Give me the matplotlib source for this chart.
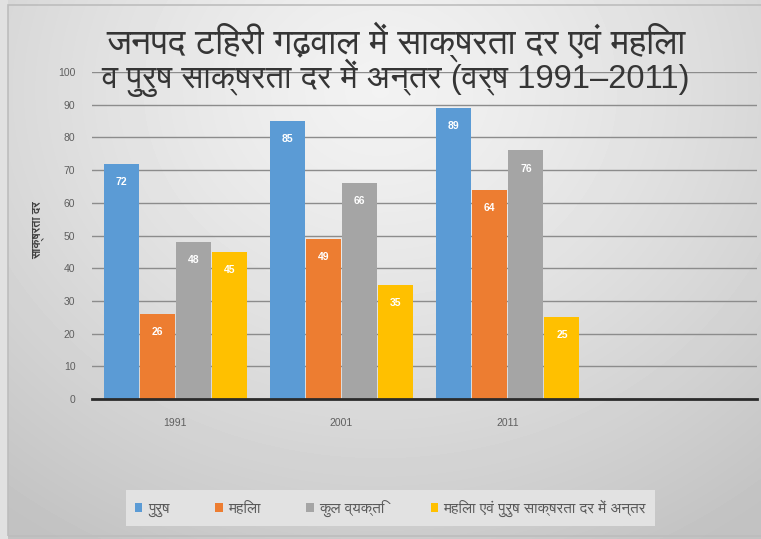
import numpy as np
import matplotlib
matplotlib.use("Agg")
import matplotlib.pyplot as plt
from matplotlib import font_manager
from matplotlib.ft2font import FT2Font
from matplotlib.patches import Rectangle

# data
years = ["1991", "2001", "2011"]
purush = [72, 85, 89]
mahila = [26, 49, 64]
kul_vyakti = [48, 66, 76]
antar = [45, 35, 25]
series_names = ["पुरुष", "महिला", "कुल व्यक्ति", "महिला एवं पुरुष साक्षरता दर में अन्तर"]
colors = ["#5B9BD5", "#ED7D31", "#A5A5A5", "#FFC000"]
title_lines = ["जनपद टिहरी गढ़वाल में साक्षरता दर एवं महिला",
               "व पुरुष साक्षरता दर में अन्तर (वर्ष 1991–2011)"]
ylabel = "साक्षरता दर"

# find fonts with devanagari glyphs, prefer a proportional sans one
cands = []
for f in font_manager.fontManager.ttflist:
    try:
        if 0x0915 in FT2Font(f.fname).get_charmap():
            cands.append(f)
    except Exception:
        pass

def rank(f):
    n = f.name.lower()
    return ("mono" in n, "sans" not in n, f.style != "normal",
            str(f.weight) not in ("normal", "400"), n)

cands.sort(key=rank)
deva = cands[0].name if cands else "Noto Sans"
plt.rcParams["font.family"] = ["Liberation Sans", deva, "DejaVu Sans"]

fig = plt.figure(figsize=(7.61, 5.39), dpi=100)

# grey radial background
bg = fig.add_axes([0, 0, 1, 1], zorder=-10)
yy, xx = np.mgrid[0:539, 0:761]
r = np.sqrt((xx - 380) ** 2 + ((yy - 90) * 1.15) ** 2) / 560.0
shade = np.clip(0.95 - 0.17 * r ** 1.3, 0.76, 0.95)
shade[:, :8] = 0.88
bg.imshow(shade, cmap="gray", vmin=0, vmax=1, aspect="auto")
bg.axis("off")
# chart frame
fig.patches.append(Rectangle((8 / 761, 0.006), 1.0, 0.985, transform=fig.transFigure,
                             fill=False, edgecolor="#bdbdbd", linewidth=1.2, zorder=-5))

ax = fig.add_axes([0.121, 0.2597, 0.874, 0.6067])
ax.set_facecolor("none")

x = np.arange(len(years))
w = 0.21
step = 0.217
for i, vals in enumerate([purush, mahila, kul_vyakti, antar]):
    pos = x + (i - 1.5) * step
    bars = ax.bar(pos, vals, w, color=colors[i], label=series_names[i], zorder=3)
    for b, v in zip(bars, vals):
        ax.annotate(str(v), (b.get_x() + b.get_width() / 2, v), xytext=(0, -13),
                    textcoords="offset points", ha="center", va="center",
                    color="white", fontsize=7.5, fontweight="bold", zorder=4)

ax.set_xlim(-0.5, 3.5)
ax.set_ylim(0, 100)
ax.set_yticks(range(0, 101, 10))
ax.set_xticks(x)
ax.set_xticklabels(years)
ax.grid(axis="y", color="#8c8c8c", linewidth=1, zorder=0)
ax.tick_params(length=0, labelsize=7.5, colors="#5f5f5f", pad=12)
ax.tick_params(axis="x", pad=14)
for s in ["top", "right", "left"]:
    ax.spines[s].set_visible(False)
ax.spines["bottom"].set_color("#2b2b2b")
ax.spines["bottom"].set_linewidth(2)
ax.spines["bottom"].set_zorder(5)

fig.text(0.05, 0.573, ylabel, rotation=90, ha="center", va="center",
         fontsize=8.5, fontweight="bold", color="#404040")

# two-line title
fig.text(0.52, 0.922, title_lines[0], ha="center", va="center", fontsize=25.5, color="#353535")
fig.text(0.52, 0.855, title_lines[1], ha="center", va="center", fontsize=23.5, color="#353535")

leg = ax.legend(loc="center", bbox_to_anchor=(0.513, 0.057), bbox_transform=fig.transFigure,
                ncol=4, fontsize=11, frameon=True, handlelength=0.5, handleheight=0.5,
                columnspacing=3.0, handletextpad=0.35, borderpad=0.6)
leg.get_frame().set_facecolor("#e2e2e2")
leg.get_frame().set_edgecolor("none")
leg.get_frame().set_alpha(1)
leg.get_frame().set_boxstyle("square", pad=0)
for t in leg.get_texts():
    t.set_color("#5a5a5a")

fig.savefig("out.png", dpi=100)
